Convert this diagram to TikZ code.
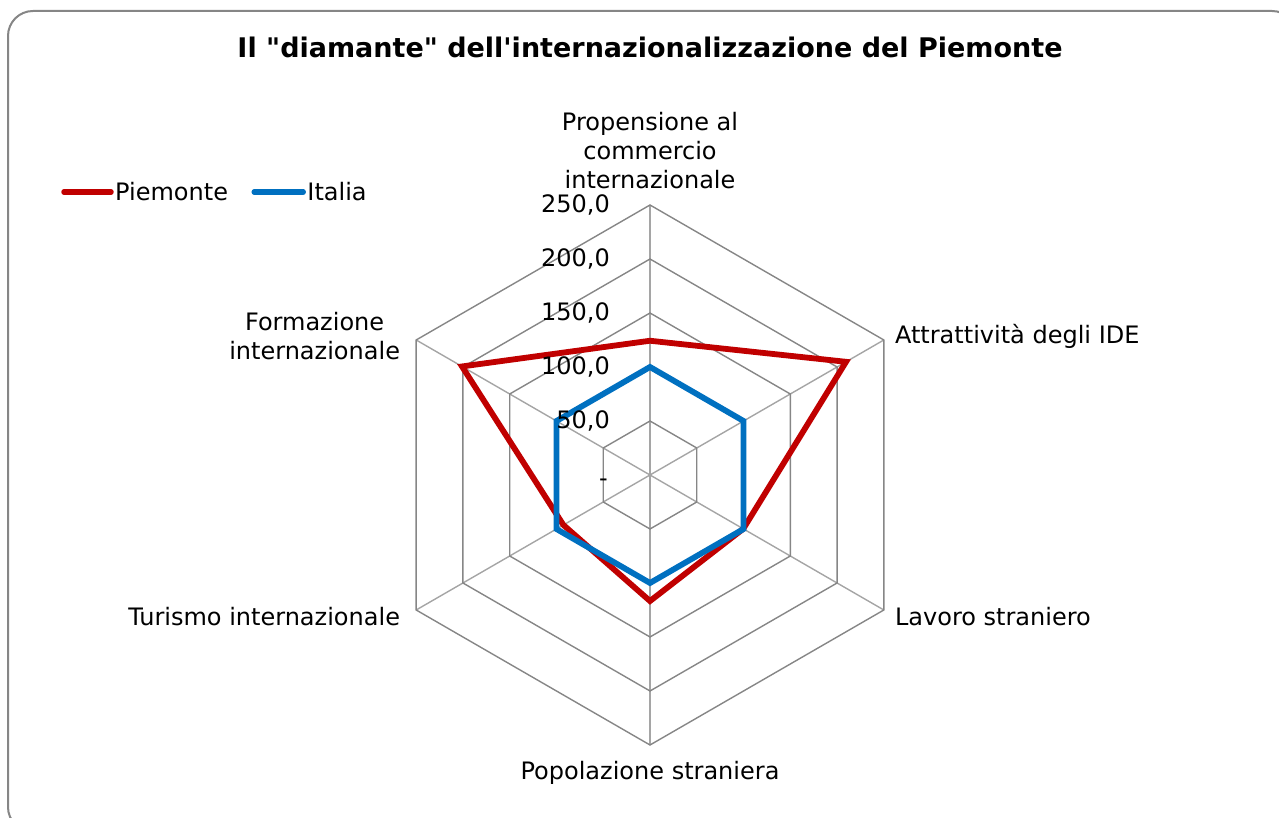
\documentclass[tikz,border=0pt]{standalone}
\usepackage{fontspec}
\setmainfont{DejaVu Sans}[Ligatures=TeXOff]
\usepackage{xcolor}
\usepackage{tikz}
\usetikzlibrary{positioning,calc}
\definecolor{piemonte}{RGB}{192,0,0}
\definecolor{italia}{RGB}{0,112,192}
\definecolor{ringgray}{RGB}{134,134,134}
\definecolor{spokegray}{RGB}{165,165,165}
\tikzset{
  grid ring/.style={draw=ringgray, line width=1.4pt},
  axis spoke/.style={draw=spokegray, line width=1.4pt},
  series line/.style={line width=5.8pt, line join=miter},
  legend line/.style={line width=5.5pt, line cap=round},
  axis label/.style={font=\fontsize{24}{29}\selectfont, inner sep=0pt},
  legend text/.style={font=\fontsize{24}{29}\selectfont, inner xsep=4pt, inner ysep=0pt},
  tick label/.style={font=\fontsize{24}{29}\selectfont, inner sep=0pt, anchor=east},
}

\begin{document}
\begin{tikzpicture}[x=1pt,y=1pt]
\useasboundingbox (0,0) rectangle (1279,818);
\begin{scope}
  \clip (0,0) rectangle (1279,818);
  \draw[ringgray, line width=2pt, rounded corners=25pt] (8,-14) rectangle (1297,807);
\end{scope}
\node[font=\bfseries\fontsize{27}{32}\selectfont, inner sep=0pt] (title) at (650,771) {Il "diamante" dell'internazionalizzazione del Piemonte};

\coordinate (O) at (650,343);
\begin{scope}[shift={(O)}]
  \foreach \a [count=\i] in {90,30,-30,-90,-150,150}
    \coordinate (v\i) at (\a:270);
  \foreach \i in {1,...,6}
    \draw[axis spoke] (O) -- (v\i);
  \foreach \k in {1,...,5}
    \draw[grid ring] (90:{54*\k}) -- (30:{54*\k}) -- (-30:{54*\k}) -- (-90:{54*\k}) -- (-150:{54*\k}) -- (150:{54*\k}) -- cycle;
  \draw[series line, piemonte] (90:{124.3*1.08}) -- (30:{209.6*1.08}) -- (-30:{99.7*1.08}) -- (-90:{116.7*1.08}) -- (-150:{92.6*1.08}) -- (150:{201*1.08}) -- cycle;
  \draw[series line, italia] (90:108) -- (30:108) -- (-30:108) -- (-90:108) -- (-150:108) -- (150:108) -- cycle;
\end{scope}

\node[tick label] (tick0) at ($(O)+(-42,-8)$) {-};
\foreach \k/\t in {1/{50,0},2/{100,0},3/{150,0},4/{200,0},5/{250,0}}
  \node[tick label] (tick\k) at ($(O)+(-40,54*\k)$) {\t};

\node[axis label, align=center, above=16pt of v1] (lprop) {Propensione al\\commercio\\internazionale};
\node[axis label, right=11pt of v2, yshift=4pt] (lattr) {Attrattività degli IDE};
\node[axis label, right=11pt of v3, yshift=-7pt] (llav) {Lavoro straniero};
\node[axis label, below=16pt of v4] (lpop) {Popolazione straniera};
\node[axis label, left=16pt of v5, yshift=-7pt] (ltur) {Turismo internazionale};
\node[axis label, align=center, left=16pt of v6, yshift=4pt] (lform) {Formazione\\internazionale};

\coordinate (legPa) at (64,626);
\node[legend text, anchor=west] (legP) at (111,626) {Piemonte};
\draw[legend line, piemonte] (legPa) -- (legP.west);
\coordinate[right=22pt of legP] (legIa);
\node[legend text, right=49pt of legIa] (legI) {Italia};
\draw[legend line, italia] (legIa) -- (legI.west);
\end{tikzpicture}
\end{document}
